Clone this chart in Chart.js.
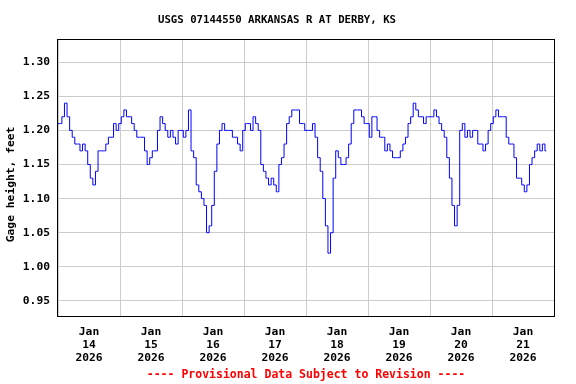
<!DOCTYPE html>
<html><head><meta charset="utf-8">
<script src="https://cdn.jsdelivr.net/npm/chart.js@4"></script>
<style>html,body{margin:0;padding:0;background:#fff}#wrap{width:576px;height:384px}</style>
</head><body><div id="wrap"><canvas id="c" width="576" height="384"></canvas></div>
<script>
const titleText = 'USGS 07144550 ARKANSAS R AT DERBY, KS';
const yAxisTitle = 'Gage height, feet';
const footerText = '---- Provisional Data Subject to Revision ----';
const dayLabels = [
  ['Jan','14','2026'], ['Jan','15','2026'], ['Jan','16','2026'], ['Jan','17','2026'],
  ['Jan','18','2026'], ['Jan','19','2026'], ['Jan','20','2026'], ['Jan','21','2026']
];
const yTicks = [0.95, 1.00, 1.05, 1.10, 1.15, 1.20, 1.25, 1.30];
// hourly readings starting Jan 14 2026 00:00
const gageHeight = [
  1.21,1.21,1.22,1.24,1.22,1.20,1.19,1.18,1.18,1.17,1.18,1.17,1.15,1.13,1.12,1.14,1.17,1.17,1.17,1.18,1.19,1.19,1.21,1.20,
  1.21,1.22,1.23,1.22,1.22,1.21,1.20,1.19,1.19,1.19,1.17,1.15,1.16,1.17,1.17,1.20,1.22,1.21,1.20,1.19,1.20,1.19,1.18,1.20,
  1.20,1.19,1.20,1.23,1.17,1.16,1.12,1.11,1.10,1.09,1.05,1.06,1.09,1.14,1.18,1.20,1.21,1.20,1.20,1.20,1.19,1.19,1.18,1.17,
  1.20,1.21,1.21,1.20,1.22,1.21,1.20,1.15,1.14,1.13,1.12,1.13,1.12,1.11,1.15,1.16,1.18,1.21,1.22,1.23,1.23,1.23,1.21,1.21,
  1.20,1.20,1.20,1.21,1.19,1.16,1.14,1.10,1.06,1.02,1.05,1.13,1.17,1.16,1.15,1.15,1.16,1.18,1.21,1.23,1.23,1.23,1.22,1.21,
  1.21,1.19,1.22,1.22,1.20,1.19,1.19,1.17,1.18,1.17,1.16,1.16,1.16,1.17,1.18,1.19,1.21,1.22,1.24,1.23,1.22,1.22,1.21,1.22,
  1.22,1.22,1.23,1.22,1.21,1.20,1.19,1.16,1.13,1.09,1.06,1.09,1.20,1.21,1.19,1.20,1.19,1.20,1.20,1.18,1.18,1.17,1.18,1.20,
  1.21,1.22,1.23,1.22,1.22,1.22,1.19,1.18,1.18,1.16,1.13,1.13,1.12,1.11,1.12,1.15,1.16,1.17,1.18,1.17,1.18,1.17
];

const FONT = 'DejaVu Sans Mono';

const boxPlugin = {
  id: 'box',
  afterDraw(chart) {
    const a = chart.chartArea, ctx = chart.ctx;
    ctx.save();
    ctx.strokeStyle = '#000';
    ctx.lineWidth = 1;
    ctx.strokeRect(Math.round(a.left) - 0.5, Math.round(a.top) + 0.5,
      Math.round(a.right) - Math.round(a.left) + 1, Math.round(a.bottom) - Math.round(a.top));
    ctx.restore();
  }
};

new Chart(document.getElementById('c'), {
  type: 'line',
  data: {
    datasets: [{
      data: gageHeight.map((v, i) => ({x: i, y: v})),
      borderColor: '#0000ff',
      borderWidth: 1,
      pointRadius: 0,
      stepped: 'middle',
      fill: false
    }]
  },
  options: {
    responsive: false,
    animation: false,
    devicePixelRatio: 1,
    layout: {padding: {left: 0, right: 22, top: 0, bottom: 0}},
    plugins: {
      legend: {display: false},
      tooltip: {enabled: false},
      title: {
        display: true, text: titleText, color: '#000',
        font: {family: FONT, size: 10.7, weight: 'bold', lineHeight: 1.2},
        padding: {top: 14, bottom: 12.2}
      }
    },
    scales: {
      x: {
        type: 'linear', min: 0, max: 192,
        afterBuildTicks(s) { const t = []; for (let v = 0; v <= 192; v += 12) t.push({value: v}); s.ticks = t; },
        afterFit(s) { s.height = 67.8; },
        ticks: {
          autoSkip: false, maxRotation: 0, color: '#000', padding: 9,
          font: {family: FONT, size: 11.3, weight: 'bold', lineHeight: 1.15},
          callback(v) { return (v % 24 === 12) ? dayLabels[(v - 12) / 24] : ''; }
        },
        grid: {
          drawTicks: false,
          color(ctx) { return (ctx.tick && ctx.tick.value % 24 === 0) ? '#cccccc' : 'rgba(0,0,0,0)'; },
          lineWidth: 1
        },
        border: {display: false},
        title: {
          display: true, text: footerText, color: '#ff0000',
          font: {family: FONT, size: 11.5, weight: 'bold', lineHeight: 1.2},
          padding: {top: 0, bottom: 2}
        }
      },
      y: {
        type: 'linear', min: 0.9275, max: 1.334,
        afterBuildTicks(s) { s.ticks = yTicks.map(v => ({value: v})); },
        afterFit(s) { s.width = 58; },
        ticks: {
          color: '#000', padding: 8,
          font: {family: FONT, size: 11.3, weight: 'bold'},
          callback(v) { return Number(v).toFixed(2); }
        },
        grid: {drawTicks: false, color: '#cccccc', lineWidth: 1},
        border: {display: false},
        title: {
          display: true, text: yAxisTitle + '  ', color: '#000',
          font: {family: FONT, size: 11.3, weight: 'bold', lineHeight: 1.2},
          padding: {top: 4, bottom: 0}
        }
      }
    }
  },
  plugins: [boxPlugin]
});
</script>
</body></html>
